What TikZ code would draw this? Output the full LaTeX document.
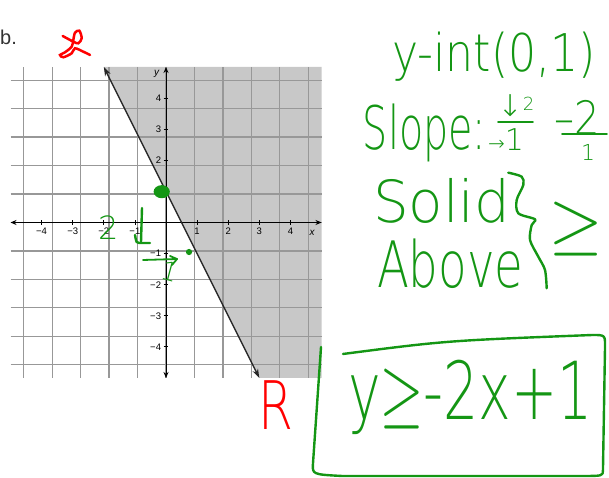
\documentclass[tikz,border=0pt]{standalone}
\usepackage{fontspec}
\usepackage{unicode-math}
\setmainfont{Liberation Sans}
\setmathfont{Latin Modern Math}
\newfontfamily\handfont{DejaVu Sans ExtraLight}
\usetikzlibrary{arrows.meta}

\definecolor{halfgray}{RGB}{200,200,200}
\definecolor{gridgray}{RGB}{152,152,152}
\definecolor{pen}{RGB}{20,150,20}

\tikzset{
	hand/.style={text=pen, inner sep=0pt, outer sep=0pt},
	ink/.style={draw=pen, line width=2.4pt, line cap=round, line join=round},
	lbl/.style={font=\fontsize{9.5}{9.5}\selectfont, inner sep=1pt},
}
\newcommand{\pensize}[1]{\fontsize{#1}{#1}\handfont}

\begin{document}
\begin{tikzpicture}[x=31.1pt,y=31.1pt]
			\useasboundingbox (-5.338,-8.215) rectangle (14.244,7.154);
			\coordinate (P) at (-2,5);
			\coordinate (Q) at (3,-5);
			% shaded half plane and grid
			\fill[halfgray] (P) -- (5,5) -- (5,-5) -- (Q) -- cycle;
			\draw[gridgray, line width=1.3pt] (-5,-5) grid (5,5);
			
			% axes
			\draw[line width=0.9pt, {Stealth[length=6pt,width=5pt]}-{Stealth[length=6pt,width=5pt]}] (-5,0) -- (5,0);
			\draw[line width=0.9pt, {Stealth[length=6pt,width=5pt]}-{Stealth[length=6pt,width=5pt]}] (0,-5) -- (0,5);
			\foreach \i in {1,...,4}{
				\draw[line width=0.8pt] (\i,-0.08) -- (\i,0.08);
				\draw[line width=0.8pt] (-\i,-0.08) -- (-\i,0.08);
				\draw[line width=0.8pt] (-0.08,\i) -- (0.08,\i);
				\draw[line width=0.8pt] (-0.08,-\i) -- (0.08,-\i);
				\node[lbl, anchor=north] (xp\i) at (\i,-0.15) {\i};
				\node[lbl, anchor=north] (xn\i) at (-\i,-0.15) {−\i};
				\node[lbl, anchor=east] (yp\i) at (-0.12,\i) {\i};
				\node[lbl, anchor=east] (yn\i) at (-0.12,-\i) {−\i};
			}
			\node[lbl, font=\fontsize{10}{10}\selectfont\itshape] (xlab) at (4.7,-0.32) {x};
			\node[lbl, font=\fontsize{10}{10}\selectfont\itshape] (ylab) at (-0.3,4.78) {y};
			
			% boundary line
			\draw[line width=1.4pt, black!85, {Stealth[length=9pt,width=6pt]}-{Stealth[length=9pt,width=6pt]}] (P) -- (Q);
			
			\node[anchor=base west, font=\fontsize{20}{20}\selectfont, text=black!80, inner sep=0pt] (part) at (-5.338,5.707) {b.};
			
			% red marks
			\draw[red, line width=2.5pt, line cap=round] plot[smooth] coordinates {(-3.322,5.997) (-2.981,5.814) (-2.820,5.762) (-2.711,5.923) (-2.788,6.167) (-2.926,6.103) (-2.981,5.868) (-3.032,5.653) (-3.248,5.473) (-3.408,5.386) (-3.302,5.312) (-3.032,5.441) (-2.926,5.601) (-2.659,5.492) (-2.444,5.386)};
			\node[anchor=base west, text=red, inner sep=0pt, xscale=0.75, font=\pensize{67}] (R) at (2.958,-6.672) {R};
			
			% green marks on the graph
			\fill[pen] (-0.138,0.99) ellipse (0.26 and 0.21);
			\fill[pen] (0.740,-0.949) circle (0.1);
			\node[hand, anchor=base west, font=\pensize{32}] (run2) at (-2.186,-0.563) {2};
			\draw[ink] (-0.772,0.466) -- (-0.804,-0.627);
			\draw[ink] (-0.997,-0.402) .. controls (-0.95,-0.66) .. (-0.86,-0.659) -- (-0.514,-0.659);
			\draw[ink, line width=1.8pt] (-0.740,-1.206) -- (0.354,-1.174);
			\draw[ink, line width=1.8pt] (0.129,-1.077) -- (0.354,-1.174) -- (0.193,-1.367);
			\node[hand, rotate=-15, font=\pensize{26}] (run1) at (0.14,-1.56) {1};
			
			% notes
			\node[hand, anchor=base west, xscale=0.85, font=\pensize{52}] (yint) at (7.267,4.839) {y-int(0,1)};
			\node[hand, anchor=base west, xscale=0.66, font=\pensize{60}] (slope) at (6.334,2.331) {Slope:};
			\node[hand, font=\pensize{30}] (rise) at (11.254,3.746) {↓\raisebox{6pt}{\pensize{18}2}};
			\node[hand] (run) at (10.932,2.653) {{\pensize{20}→}{\pensize{30}1}};
			\draw[ink, line width=1.8pt] (10.675,3.232) -- (11.801,3.232);
			\node[hand, xscale=0.87, font=\pensize{46}] (num) at (13.215,3.392) {–2};
			\draw[ink, line width=1.8pt] (12.733,2.846) -- (14.180,2.846);
			\node[hand, font=\pensize{22}] (den) at (13.569,2.25) {1};
			
			\node[hand, anchor=base west, xscale=0.97, font=\pensize{58}] (solid) at (6.656,-0.016) {Solid};
			\node[hand, anchor=base west, xscale=0.73, font=\pensize{64}] (above) at (6.785,-2.106) {Above};
			\draw[ink] plot[smooth] coordinates {(11.006,1.601) (11.437,1.473) (11.489,1.206) (11.276,0.723) (11.328,0.296) (11.865,0.103) (11.759,-0.080) (11.704,-0.563) (11.971,-1.100) (12.186,-1.527) (12.241,-2.116)};
			\node[hand, xscale=0.95, font=\pensize{72}] (geq) at (13.18,-0.209) {$\geq$};
			
			% answer
			\node[hand, anchor=base west, xscale=0.69, font=\pensize{80}] (ans) at (5.852,-6.350) {y$\geq$-2x+1};
			\draw[ink] (4.984,-4.003) -- (4.727,-7.733) .. controls (4.70,-8.10) .. (5.659,-8.151) -- (13.408,-8.151) .. controls (14.05,-8.15) .. (14.05,-7.958) -- (14.116,-4.003) .. controls (14.12,-3.62) .. (13.73,-3.617);
			\draw[ink] (5.691,-4.228) .. controls (9,-3.8) .. (13.73,-3.617);
		\end{tikzpicture}
\end{document}
